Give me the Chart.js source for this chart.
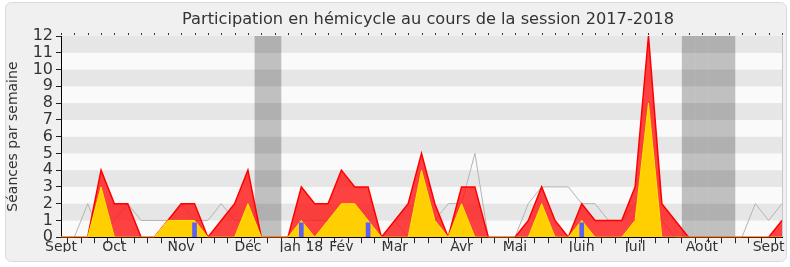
<!DOCTYPE html>
<html><head><meta charset="utf-8">
<script src="https://cdn.jsdelivr.net/npm/chart.js@4/dist/chart.umd.min.js"></script>
<style>html,body{margin:0;padding:0;background:#fff;}</style>
</head><body>
<canvas id="c" width="790" height="267"></canvas>
<script>
// Week index -> month label (55 weekly points, Sept 2017 .. Sept 2018)
const weekLabels = ['Sept','','','','Oct','','','','','Nov','','','','','Déc','','','','Jan 18','','','Fév','','','','Mar','','','','','Avr','','','','Mai','','','','','Juin','','','','Juil','','','','','Août','','','','','Sept',''];
// Présences en hémicycle (séances par semaine)
const presences =     [0,0,0,4,2,2,0,0,1,2,2,0,1,2,4,0,0,0,3,2,2,4,3,3,0,1,2,5,2,0,3,3,0,0,0,1,3,1,0,2,1,1,1,3,12,2,1,0,0,0,0,0,0,0,1];
// Interventions
const interventions = [0,0,0,3,0,0,0,0,1,1,1,0,0,0,2,0,0,0,1,0,1,2,2,1,0,0,0,4,1,0,2,0,0,0,0,0,2,0,0,1,0,0,0,1,8,0,0,0,0,0,0,0,0,0,0];
// Questions orales
const questions =     [null,null,null,null,null,null,null,null,null,null,0.85,null,null,null,null,null,null,null,0.85,null,null,null,null,0.85,null,null,null,null,null,null,null,null,null,null,null,null,null,null,null,0.85,null,null,null,null,null,null,null,null,null,null,null,null,null,null,null];
// Médiane des députés
const mediane =       [0,0,2,0,1,2,1,1,1,2,1,1,2,1,1,0,0,0,1,1,1,1,1,1,0,1,0,1,1,2,2,5,0,0,0,2,3,3,3,2,2,1,1,2,3,1,0,0,0,0,0,0,2,1,2];
// Vacances parlementaires (indices de semaines)
const vacationWeeks = [15,16,47,48,49,50];
const yMax = 12;
const chartTitle = 'Participation en hémicycle au cours de la session 2017-2018';

const FONT = 'DejaVu Sans';

const decor = {
  id: 'decor',
  beforeDraw(chart) {
    const ctx = chart.ctx;
    const {left, right, top, bottom} = chart.chartArea;
    ctx.save();
    ctx.fillStyle = '#fff';
    ctx.fillRect(0, 0, chart.width, chart.height);
    // frame
    const fx = 5.5, fy = 2.5, fw = 781, fh = 259, r = 6;
    ctx.beginPath();
    ctx.moveTo(fx + r, fy);
    ctx.arcTo(fx + fw, fy, fx + fw, fy + fh, r);
    ctx.arcTo(fx + fw, fy + fh, fx, fy + fh, r);
    ctx.arcTo(fx, fy + fh, fx, fy, r);
    ctx.arcTo(fx, fy, fx + fw, fy, r);
    ctx.closePath();
    ctx.fillStyle = '#f0f0f0';
    ctx.fill();
    ctx.strokeStyle = '#dadada';
    ctx.lineWidth = 1;
    ctx.stroke();
    // title
    ctx.fillStyle = '#333';
    ctx.font = '16.2px "' + FONT + '"';
    ctx.textAlign = 'center';
    ctx.textBaseline = 'middle';
    ctx.fillText(chartTitle, 428, 20);
    // stripes
    const ys = chart.scales.y;
    for (let v = 0; v < yMax; v++) {
      const y1 = ys.getPixelForValue(v + 1), y0 = ys.getPixelForValue(v);
      ctx.fillStyle = (v % 2 === 0) ? '#fafafa' : '#e6e6e6';
      ctx.fillRect(left, y1, right - left, y0 - y1);
    }
    // vacations
    const xs = chart.scales.x;
    ctx.fillStyle = 'rgba(0,0,0,0.23)';
    vacationWeeks.forEach(w => {
      const a = xs.getPixelForValue(w - 0.5), b = xs.getPixelForValue(w + 0.5);
      ctx.fillRect(a, top, b - a, bottom - top);
    });
    // right border
    ctx.strokeStyle = '#c8c8c8';
    ctx.beginPath();
    ctx.moveTo(Math.round(right) + 0.5, top);
    ctx.lineTo(Math.round(right) + 0.5, bottom);
    ctx.stroke();
    // top dotted ticks
    ctx.fillStyle = '#333';
    for (let i = 0; i < weekLabels.length; i++) {
      const px = Math.round(xs.getPixelForValue(i));
      ctx.fillRect(px, top - 3, 1, 2);
    }
    ctx.restore();
  }
};

new Chart(document.getElementById('c'), {
  type: 'line',
  data: {
    labels: weekLabels,
    datasets: [
      { type: 'bar', label: 'Questions orales', data: questions, backgroundColor: '#5f5ff5', barThickness: 4, order: 1 },
      { label: 'Interventions', data: interventions, fill: 'origin', backgroundColor: 'rgba(255,212,0,0.97)', borderColor: '#ffe600', borderWidth: 1, pointRadius: 0, tension: 0, order: 2 },
      { label: 'Présences', data: presences, fill: 'origin', backgroundColor: 'rgba(255,20,20,0.8)', borderColor: '#ff0000', borderWidth: 1.5, pointRadius: 0, tension: 0, order: 3 },
      { label: 'Médiane', data: mediane, fill: false, borderColor: '#b4b4b4', borderWidth: 1, pointRadius: 0, tension: 0, order: 4 }
    ]
  },
  options: {
    responsive: false,
    animation: false,
    events: [],
    layout: { padding: { top: 36, right: 8, bottom: 15, left: 0 } },
    plugins: {
      legend: { display: false },
      tooltip: { enabled: false },
      title: { display: false }
    },
    scales: {
      x: {
        type: 'category',
        offset: false,
        grid: { display: true, drawOnChartArea: false, drawTicks: true, tickLength: 6, color: '#222' },
        border: { display: true, color: '#000', width: 1 },
        ticks: { autoSkip: false, maxRotation: 0, minRotation: 0, padding: -4, color: '#333', font: { family: FONT, size: 14 } }
      },
      y: {
        min: 0, max: yMax,
        afterFit(scale) { scale.width = 61; },
        grid: { display: true, drawOnChartArea: false, drawTicks: true, tickLength: 5, color: '#222' },
        border: { display: true, color: '#000', width: 1 },
        ticks: { stepSize: 1, autoSkip: false, padding: 3, color: '#333', font: { family: FONT, size: 16 } },
        title: { display: true, text: 'Séances par semaine', color: '#333', font: { family: FONT, size: 14 }, padding: { top: 5, bottom: 0 } }
      }
    }
  },
  plugins: [decor]
});
</script>
</body></html>
